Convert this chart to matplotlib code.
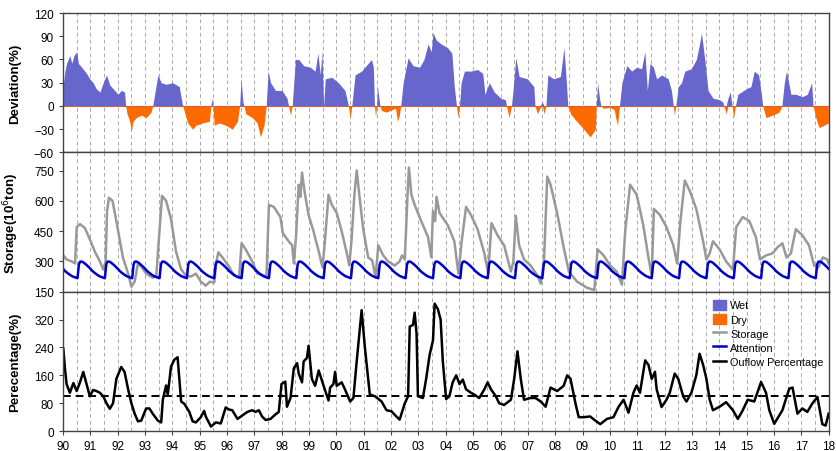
import numpy as np
import matplotlib
matplotlib.use("Agg")
import matplotlib.pyplot as plt
from matplotlib.patches import Patch
from matplotlib.lines import Line2D

plt.rcParams["font.family"] = ["Liberation Sans", "DejaVu Sans"]

# Abweichung (%) - Stützpunkte (Jahr, Wert)
dev_t = [1990.01, 1990.07, 1990.13, 1990.25, 1990.32, 1990.40, 1990.50, 1990.56, 1990.68, 1990.86,
         1990.98, 1991.10, 1991.22, 1991.35, 1991.47, 1991.59, 1991.71, 1991.89, 1992.01, 1992.13,
         1992.25, 1992.29, 1992.34, 1992.44, 1992.50, 1992.56, 1992.68, 1992.86, 1993.04, 1993.22,
         1993.28, 1993.35, 1993.47, 1993.59, 1993.77, 1994.01, 1994.25, 1994.35, 1994.38, 1994.44,
         1994.56, 1994.74, 1994.86, 1995.10, 1995.35, 1995.41, 1995.44, 1995.48, 1995.53, 1995.71,
         1995.95, 1996.19, 1996.38, 1996.46, 1996.51, 1996.58, 1996.62, 1996.68, 1996.92, 1997.10,
         1997.22, 1997.35, 1997.43, 1997.50, 1997.59, 1997.77, 1998.01, 1998.19, 1998.25, 1998.32,
         1998.38, 1998.50, 1998.62, 1998.80, 1999.04, 1999.22, 1999.32, 1999.41, 1999.47, 1999.53,
         1999.59, 1999.83, 2000.07, 2000.31, 2000.44, 2000.50, 2000.56, 2000.68, 2000.92, 2001.16,
         2001.28, 2001.35, 2001.39, 2001.43, 2001.47, 2001.50, 2001.59, 2001.65, 2001.83, 2002.01,
         2002.16, 2002.23, 2002.30, 2002.35, 2002.44, 2002.62, 2002.80, 2003.04, 2003.20, 2003.35,
         2003.47, 2003.53, 2003.65, 2003.83, 2004.07, 2004.22, 2004.31, 2004.39, 2004.44, 2004.50,
         2004.56, 2004.68, 2004.92, 2005.16, 2005.35, 2005.43, 2005.59, 2005.77, 2006.01, 2006.18,
         2006.22, 2006.31, 2006.40, 2006.47, 2006.56, 2006.68, 2006.98, 2007.22, 2007.26, 2007.35,
         2007.44, 2007.53, 2007.59, 2007.66, 2007.73, 2007.95, 2008.19, 2008.32, 2008.41, 2008.46,
         2008.56, 2008.74, 2008.92, 2009.16, 2009.28, 2009.47, 2009.50, 2009.55, 2009.62, 2009.67,
         2009.77, 2010.01, 2010.16, 2010.21, 2010.28, 2010.35, 2010.44, 2010.62, 2010.80, 2010.98,
         2011.16, 2011.28, 2011.37, 2011.47, 2011.59, 2011.71, 2011.89, 2012.13, 2012.25, 2012.32,
         2012.36, 2012.41, 2012.50, 2012.62, 2012.74, 2012.98, 2013.16, 2013.28, 2013.35, 2013.47,
         2013.59, 2013.77, 2014.01, 2014.13, 2014.17, 2014.25, 2014.32, 2014.40, 2014.47, 2014.53,
         2014.59, 2014.68, 2014.98, 2015.16, 2015.28, 2015.44, 2015.54, 2015.59, 2015.71, 2015.95,
         2016.19, 2016.29, 2016.38, 2016.46, 2016.62, 2016.80, 2017.04, 2017.22, 2017.38, 2017.43,
         2017.53, 2017.65, 2017.83, 2017.99]
dev_v = [28, 45, 55, 65, 55, 65, 70, 55, 50, 42,
         35, 30, 22, 18, 30, 40, 27, 20, 15, 20,
         18, 0, -10, -20, -33, -20, -15, -12, -15, -8,
         0, 15, 40, 30, 28, 30, 25, 5, 0, -8,
         -22, -30, -25, -22, -20, 0, 10, 0, -25, -22,
         -25, -30, -20, 0, 35, 5, 0, -10, -15, -22,
         -40, -25, 0, 45, 30, 20, 20, 10, 0, -12,
         0, 60, 60, 52, 50, 45, 68, 40, 72, 0,
         35, 37, 30, 20, 0, -17, 0, 40, 45, 55,
         60, 50, 0, -14, 0, 25, 0, -6, -8, -5,
         -3, -20, -12, 0, 30, 62, 52, 50, 60, 80,
         70, 95, 85, 80, 75, 68, 25, 0, -15, 0,
         30, 45, 45, 47, 42, 15, 30, 18, 10, 8,
         0, -15, 0, 25, 62, 38, 35, 25, 0, -10,
         -3, 5, -10, 0, 40, 35, 38, 75, 30, 0,
         -10, -18, -25, -35, -40, -30, 0, 30, 10, 0,
         -3, -2, -5, -15, -25, 0, 30, 52, 45, 50,
         48, 70, 20, 55, 50, 35, 40, 35, 20, 0,
         -12, 0, 25, 30, 45, 48, 60, 80, 94, 60,
         20, 10, 8, 5, 0, -10, 10, 18, 0, -15,
         0, 15, 22, 25, 45, 40, 15, 0, -15, -12,
         -8, 0, 30, 45, 15, 15, 12, 15, 30, 0,
         -15, -28, -25, -22]

# Speicher (10^6 t)
sto_t = [1990.01, 1990.13, 1990.32, 1990.44, 1990.50, 1990.62, 1990.80, 1990.98, 1991.16, 1991.35,
         1991.47, 1991.56, 1991.61, 1991.68, 1991.81, 1991.95, 1992.19, 1992.38, 1992.50, 1992.62,
         1992.74, 1992.86, 1993.04, 1993.28, 1993.41, 1993.50, 1993.62, 1993.77, 1993.95, 1994.13,
         1994.32, 1994.50, 1994.68, 1994.86, 1995.04, 1995.22, 1995.37, 1995.53, 1995.61, 1995.68,
         1995.83, 1996.07, 1996.25, 1996.44, 1996.53, 1996.68, 1996.92, 1997.10, 1997.35, 1997.44,
         1997.53, 1997.71, 1997.95, 1998.04, 1998.25, 1998.38, 1998.44, 1998.52, 1998.62, 1998.68,
         1998.74, 1998.84, 1998.98, 1999.16, 1999.35, 1999.49, 1999.59, 1999.71, 1999.83, 2000.01,
         2000.19, 2000.38, 2000.47, 2000.56, 2000.65, 2000.74, 2000.86, 2000.98, 2001.16, 2001.31,
         2001.43, 2001.53, 2001.71, 2001.89, 2002.13, 2002.31, 2002.40, 2002.50, 2002.59, 2002.65,
         2002.74, 2002.86, 2003.10, 2003.35, 2003.47, 2003.53, 2003.61, 2003.66, 2003.77, 2004.07,
         2004.31, 2004.46, 2004.58, 2004.74, 2004.92, 2005.16, 2005.41, 2005.55, 2005.67, 2005.89,
         2006.13, 2006.38, 2006.47, 2006.56, 2006.68, 2006.86, 2007.10, 2007.35, 2007.47, 2007.59,
         2007.71, 2007.83, 2008.07, 2008.31, 2008.50, 2008.80, 2009.16, 2009.43, 2009.55, 2009.77,
         2010.01, 2010.25, 2010.44, 2010.56, 2010.74, 2010.98, 2011.22, 2011.41, 2011.53, 2011.61,
         2011.83, 2012.07, 2012.32, 2012.46, 2012.58, 2012.74, 2012.92, 2013.16, 2013.41, 2013.53,
         2013.65, 2013.77, 2014.01, 2014.25, 2014.50, 2014.62, 2014.86, 2015.10, 2015.34, 2015.49,
         2015.71, 2015.95, 2016.13, 2016.31, 2016.46, 2016.62, 2016.80, 2017.04, 2017.28, 2017.47,
         2017.62, 2017.79, 2017.95, 2018.0]
sto_v = [330, 310, 300, 290, 470, 485, 465, 410, 350, 300,
         260, 300, 550, 615, 600, 500, 320, 240, 175, 200,
         290, 275, 240, 220, 230, 400, 625, 600, 510, 350,
         260, 230, 225, 240, 200, 180, 200, 195, 300, 345,
         320, 275, 230, 220, 390, 360, 300, 240, 230, 225,
         580, 570, 520, 440, 400, 380, 290, 420, 680, 620,
         740, 640, 530, 450, 350, 270, 420, 630, 580, 540,
         450, 340, 280, 420, 620, 750, 600, 460, 320, 305,
         220, 380, 330, 300, 280, 300, 330, 310, 600, 765,
         630, 580, 500, 420, 320, 550, 500, 620, 540, 480,
         400, 240, 400, 570, 530, 460, 340, 240, 490, 430,
         380, 250, 300, 525, 380, 310, 280, 230, 190, 300,
         720, 680, 540, 370, 250, 200, 170, 158, 360, 330,
         280, 250, 185, 450, 680, 630, 480, 320, 230, 560,
         530, 470, 380, 290, 500, 700, 650, 560, 400, 310,
         340, 400, 360, 300, 260, 470, 520, 500, 420, 310,
         330, 340, 370, 390, 320, 340, 460, 430, 380, 280,
         270, 320, 310, 290]

# Warnlinie: ein Jahresgang (Anteil am Jahr, Wert), jedes Jahr gleich
att_frac = [0.00, 0.08, 0.17, 0.25, 0.33, 0.42, 0.50, 0.53, 0.58, 0.62, 0.67, 0.75, 0.83, 0.92]
att_val = [264, 252, 242, 234, 227, 222, 218, 217, 285, 298, 300, 295, 286, 275]

# Abflussanteil (%)
out_t = [1990.01, 1990.07, 1990.13, 1990.25, 1990.38, 1990.50, 1990.62, 1990.74, 1990.86, 1990.98,
         1991.10, 1991.22, 1991.35, 1991.47, 1991.59, 1991.71, 1991.83, 1991.95, 1992.13, 1992.25,
         1992.38, 1992.50, 1992.62, 1992.74, 1992.86, 1993.04, 1993.16, 1993.28, 1993.47, 1993.59,
         1993.65, 1993.77, 1993.83, 1993.95, 1994.07, 1994.19, 1994.32, 1994.44, 1994.62, 1994.74,
         1994.86, 1995.04, 1995.16, 1995.22, 1995.41, 1995.59, 1995.77, 1995.95, 1996.07, 1996.19,
         1996.38, 1996.56, 1996.74, 1996.92, 1997.04, 1997.16, 1997.28, 1997.41, 1997.59, 1997.77,
         1997.89, 1997.99, 1998.13, 1998.19, 1998.32, 1998.44, 1998.56, 1998.62, 1998.74, 1998.80,
         1998.92, 1998.98, 1999.10, 1999.22, 1999.35, 1999.53, 1999.71, 1999.77, 1999.89, 1999.95,
         2000.01, 2000.19, 2000.31, 2000.50, 2000.62, 2000.74, 2000.92, 2001.04, 2001.22, 2001.41,
         2001.65, 2001.83, 2002.01, 2002.19, 2002.31, 2002.50, 2002.62, 2002.68, 2002.80, 2002.86,
         2002.93, 2002.98, 2003.16, 2003.28, 2003.41, 2003.53, 2003.59, 2003.71, 2003.81, 2003.89,
         2004.01, 2004.13, 2004.25, 2004.38, 2004.50, 2004.62, 2004.74, 2004.92, 2005.04, 2005.22,
         2005.41, 2005.53, 2005.65, 2005.83, 2005.95, 2006.13, 2006.38, 2006.50, 2006.62, 2006.74,
         2006.86, 2007.10, 2007.28, 2007.47, 2007.65, 2007.83, 2008.07, 2008.31, 2008.44, 2008.56,
         2008.74, 2008.86, 2009.04, 2009.28, 2009.47, 2009.65, 2009.89, 2010.13, 2010.32, 2010.50,
         2010.68, 2010.86, 2010.98, 2011.10, 2011.29, 2011.41, 2011.53, 2011.65, 2011.71, 2011.89,
         2012.07, 2012.19, 2012.37, 2012.50, 2012.68, 2012.80, 2012.98, 2013.16, 2013.28, 2013.41,
         2013.53, 2013.65, 2013.77, 2014.01, 2014.25, 2014.50, 2014.68, 2014.86, 2015.04, 2015.28,
         2015.53, 2015.71, 2015.83, 2016.01, 2016.31, 2016.56, 2016.68, 2016.86, 2017.04, 2017.22,
         2017.41, 2017.59, 2017.77, 2017.89, 2018.0]
out_v = [237, 180, 135, 110, 138, 115, 140, 170, 135, 100,
         118, 115, 110, 100, 80, 64, 80, 150, 184, 170,
         120, 80, 50, 28, 30, 65, 65, 50, 30, 25,
         90, 131, 105, 185, 205, 212, 85, 78, 55, 28,
         25, 40, 58, 42, 13, 25, 22, 68, 62, 60,
         35, 45, 55, 60, 55, 60, 42, 32, 35, 48,
         55, 135, 142, 70, 95, 180, 195, 165, 140, 200,
         210, 245, 150, 130, 174, 130, 88, 125, 135, 170,
         130, 140, 120, 85, 95, 200, 347, 240, 105, 100,
         85, 60, 57, 42, 33, 80, 100, 300, 305, 340,
         280, 100, 95, 150, 220, 260, 366, 350, 320, 200,
         92, 100, 140, 160, 135, 148, 120, 110, 105, 95,
         120, 140, 120, 100, 80, 75, 90, 150, 229, 150,
         90, 95, 95, 85, 70, 125, 115, 130, 160, 150,
         80, 40, 40, 42, 30, 20, 35, 40, 70, 90,
         53, 110, 131, 110, 203, 190, 150, 170, 120, 69,
         90, 110, 165, 150, 100, 85, 110, 160, 222, 190,
         150, 90, 60, 70, 83, 60, 35, 60, 90, 85,
         141, 110, 60, 21, 60, 122, 125, 50, 65, 55,
         80, 98, 20, 16, 50]

years = list(range(1990, 2019))
year_labels = ["%02d" % (y % 100) for y in years]

wet_color = "#6666CC"
dry_color = "#FF6A00"

# Jahresgang der Warnlinie auf alle Jahre übertragen
att_t = np.concatenate([y + np.array(att_frac) for y in years[:-1]] + [[2018.0]])
att_v = np.concatenate([att_val for y in years[:-1]] + [[att_val[0]]])

fig, axes = plt.subplots(3, 1, figsize=(8.37, 4.52), dpi=100, sharex=True)
fig.subplots_adjust(left=0.0753, right=0.99, top=0.969, bottom=0.044, hspace=0)
ax1, ax2, ax3 = axes

# Abweichung
t = np.array(dev_t)
v = np.array(dev_v, dtype=float)
ax1.fill_between(t, 0, np.clip(v, 0, None), color=wet_color, lw=0, label="Wet")
ax1.fill_between(t, 0, np.clip(v, None, 0), color=dry_color, lw=0, label="Dry")
ax1.axhline(0, color="#D2603A", lw=0.8)
ax1.set_ylim(-60, 120)
ax1.set_yticks(range(-60, 121, 30))
ax1.set_ylabel("Deviation(%)", fontsize=9.5, fontweight="bold", labelpad=4)

# Speicher
ax2.plot(sto_t, sto_v, color="#999999", lw=1.8, label="Storage")
ax2.plot(att_t, att_v, color="#0000CC", lw=1.8, label="Attention")
ax2.set_ylim(150, 840)
ax2.set_yticks(range(150, 751, 150))
ax2.set_ylabel("Storage(10$^{6}$ton)", fontsize=9.5, fontweight="bold", labelpad=4)

# Abflussanteil
ax3.plot(out_t, out_v, color="black", lw=1.8, label="Ouflow Percentage")
ax3.axhline(100, color="black", lw=1.4, ls=(0, (4, 2.5)))
ax3.set_ylim(0, 400)
ax3.set_yticks(range(0, 321, 80))
ax3.set_ylabel("Perecentage(%)", fontsize=9.5, fontweight="bold", labelpad=4)

ax3.set_xlim(1990, 2018)
ax3.set_xticks(years)
ax3.set_xticklabels(year_labels)
ax3.set_xticks(np.arange(1990.5, 2018, 1.0), minor=True)

for ax in axes:
    ax.grid(True, which="both", axis="x", color="#AAAAAA", ls=(0, (4, 3)), lw=0.7)
    ax.set_axisbelow(True)
    ax.tick_params(axis="y", labelsize=8.5, length=3, direction="out", color="#444444")
    ax.tick_params(axis="x", which="major", labelsize=8.5, length=3, color="#444444")
    ax.tick_params(axis="x", which="minor", length=0)
    for s in ax.spines.values():
        s.set_color("#444444")
        s.set_linewidth(1.0)
for ax in (ax1, ax2):
    ax.tick_params(axis="x", which="major", length=0)

ax1.yaxis.set_label_coords(-0.055, 0.5)
ax2.yaxis.set_label_coords(-0.055, 0.5)
ax3.yaxis.set_label_coords(-0.055, 0.5)

# Legende
handles = [Patch(color=wet_color), Patch(color=dry_color),
           Line2D([], [], color="#999999", lw=1.8), Line2D([], [], color="#0000CC", lw=1.8),
           Line2D([], [], color="black", lw=1.8)]
labels = ["Wet", "Dry", "Storage", "Attention", "Ouflow Percentage"]
ax3.legend(handles, labels, loc="upper left", bbox_to_anchor=(0.843, 0.975), frameon=False,
           fontsize=7.8, handlelength=1.2, handleheight=1.1, handletextpad=0.4, labelspacing=0.3,
           borderaxespad=0)

plt.savefig("out.png", dpi=100)
